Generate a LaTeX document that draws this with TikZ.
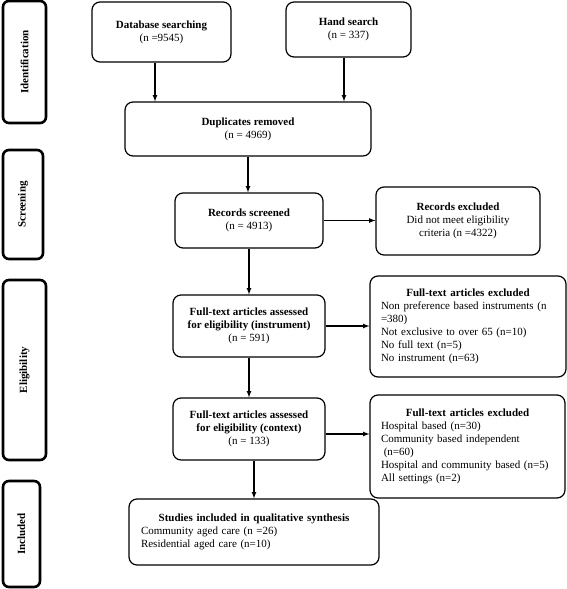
\documentclass[tikz,border=0pt]{standalone}
\usepackage{fontspec}
\setmainfont{Liberation Serif}
\usepackage{tikz}

\newcommand{\boxhead}[1]{{\centering\bfseries #1\par}\noindent}

\begin{document}
\begin{tikzpicture}[
        x=1pt, y=-1pt,
        box/.style={rectangle, rounded corners=8pt, draw=black, line width=1.2pt, align=center, font=\fontsize{11}{13}\selectfont},
        exbox/.style={box, align=left, inner xsep=11pt},
        stage/.style={rectangle, rounded corners=6pt, draw=black, line width=2.6pt, rotate=90, font=\fontsize{11}{13}\selectfont\bfseries},
        arrow/.style={->, line width=1.2pt, >=latex}
    ]
        \useasboundingbox (0,0) rectangle (567,589);

        % Stages
        \node[stage, minimum width=122pt, minimum height=43pt] (ident) at (24.5, 62) {Identification};
        \node[stage, minimum width=109pt, minimum height=40pt] (screen) at (23, 204.5) {Screening};
        \node[stage, minimum width=180pt, minimum height=43pt] (elig) at (24.5, 370) {Eligibility};
        \node[stage, minimum width=106pt, minimum height=37pt] (incl) at (21.5, 534) {Included};

        % Identification
        \node[box, minimum width=139pt, minimum height=60pt] (db) at (161.5, 32) {\textbf{Database searching}\\(n =9545)};
        \node[box, minimum width=125pt, minimum height=55pt] (hand) at (348.5, 29.5) {\textbf{Hand search}\\(n = 337)};
        \node[box, minimum width=246pt, minimum height=54pt] (dup) at (248, 129) {\textbf{Duplicates removed}\\(n = 4969)};

        % Screening
        \node[box, minimum width=148pt, minimum height=55pt] (screened) at (249, 220.5) {\textbf{Records screened}\\(n = 4913)};
        \node[box, minimum width=164pt, minimum height=68pt] (recexcl) at (458, 221) {\textbf{Records excluded}\\Did not meet eligibility\\criteria (n =4322)};

        % Eligibility
        \node[box, minimum width=152pt, minimum height=62pt] (instr) at (249, 326) {\textbf{Full-text articles assessed}\\\textbf{for eligibility (instrument)}\\(n = 591)};
        \node[exbox, text width=174pt, minimum height=101pt] (instrexcl) at (468, 326.5) {\boxhead{Full-text articles excluded}Non preference based instruments (n\\=380)\\Not exclusive to over 65 (n=10)\\No full text (n=5)\\No instrument (n=63)};
        \node[box, minimum width=152pt, minimum height=62pt] (context) at (249, 429) {\textbf{Full-text articles assessed}\\\textbf{for eligibility (context)}\\(n = 133)};
        \node[exbox, text width=173pt, minimum height=103pt] (ctxexcl) at (467.5, 446.5) {\boxhead{Full-text articles excluded}Hospital based (n=30)\\Community based independent\\\hspace*{0.25em}(n=60)\\Hospital and community based (n=5)\\All settings (n=2)};

        % Included
        \node[exbox, inner xsep=12pt, text width=226pt, minimum height=66pt] (studies) at (254, 532) {\boxhead{Studies included in qualitative synthesis}Community aged care (n =26)\\Residential aged care (n=10)};

        % Arrows
        \draw[arrow] ([xshift=-6.5pt]db.south) -- ([xshift=-6.5pt]db.south |- dup.north);
        \draw[arrow] ([xshift=-4.5pt]hand.south) -- ([xshift=-4.5pt]hand.south |- dup.north);
        \draw[arrow] (dup.south) -- (dup.south |- screened.north);
        \draw[arrow] (screened.east) -- (screened.east -| recexcl.west);
        \draw[arrow] (screened.south) -- (instr.north);
        \draw[arrow] (instr.east) -- (instr.east -| instrexcl.west);
        \draw[arrow] (instr.south) -- (context.north);
        \draw[arrow] ([yshift=-5pt]context.east) -- ([yshift=-5pt]context.east -| ctxexcl.west);
        \draw[arrow] (context.south -| studies.north) -- (studies.north);
    \end{tikzpicture}
\end{document}
